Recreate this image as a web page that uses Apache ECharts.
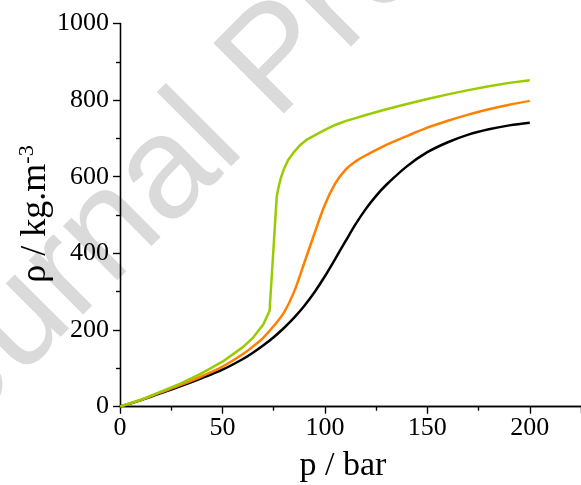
<!DOCTYPE html>
<html>
<head>
<meta charset="utf-8">
<script src="https://cdn.jsdelivr.net/npm/echarts@6/dist/echarts.min.js"></script>
<style>
  html, body { margin: 0; padding: 0; background: #fff; }
  #chart { width: 581px; height: 485px; }
</style>
</head>
<body>
<div id="chart"></div>
<script>
// CO2 density isotherms: density (kg/m3) against pressure (bar)

// Lowest isotherm (subcritical, with the vapour-liquid jump)
const pressureGreen = [0, 10, 20, 30, 40, 50, 60, 65, 70, 73, 76.5, 77.5, 78.5, 80, 82, 85, 88, 91, 95, 100, 105, 110, 115, 120, 130, 140, 150, 160, 170, 180, 190, 200];
const densityGreen  = [0, 17, 39, 61, 87, 117, 155, 180, 215, 250, 548, 575, 597, 620, 643, 665, 683, 696, 708, 722, 735, 745, 753, 761, 776, 790, 803, 815, 826, 836, 845, 852];

// Middle and highest isotherms share one pressure grid
const pressure      = [0, 10, 20, 30, 40, 50, 60, 65, 70, 75, 80, 85, 90, 95, 100, 105, 110, 115, 120, 125, 130, 140, 150, 160, 170, 180, 190, 200];
const densityOrange = [0, 17, 37, 57, 79, 104, 137, 157, 180, 210, 245, 300, 376, 453, 527, 582, 618, 640, 656, 670, 683, 706, 728, 746, 762, 776, 788, 798];
const densityBlack  = [0, 16, 35, 54, 74, 96, 124, 141, 160, 181, 205, 232, 263, 299, 340, 385, 431, 476, 516, 550, 579, 627, 664, 690, 710, 724, 734, 741];

// Axis ticks
const xTicks = [0, 50, 100, 150, 200];
const yTicks = [0, 200, 400, 600, 800, 1000];

const pairs = (xs, ys) => xs.map((x, i) => [x, ys[i]]);

const serif = 'Liberation Serif';
const chart = echarts.init(document.getElementById('chart'), null, { renderer: 'canvas' });

const xStep = xTicks[1] - xTicks[0];
const yStep = yTicks[1] - yTicks[0];
const plain = v => String(v);

const baseX = {
  type: 'value', min: xTicks[0], max: 225, interval: xStep,
  splitLine: { show: false },
  axisLine: { lineStyle: { color: '#000', width: 1.3 } },
};
const baseY = {
  type: 'value', min: yTicks[0], max: yTicks[yTicks.length - 1], interval: yStep,
  splitLine: { show: false },
  axisLine: { lineStyle: { color: '#000', width: 1.3 } },
};
const tick = (inside) => ({ inside, length: 7, lineStyle: { color: '#000', width: 1.2 } });
const minor = () => ({ show: true, splitNumber: 2, length: 4, lineStyle: { color: '#000', width: 1.2 } });

// Watermark placement: baseline start point and angle
const markAngle = Math.PI / 4;
const markSize = 145;
const markBase = [-82, 494];
const midShift = 0.3465 * markSize;
const markX = markBase[0] - midShift * Math.sin(markAngle);
const markY = markBase[1] - midShift * Math.cos(markAngle);

chart.setOption({
  animation: false,
  backgroundColor: '#fff',
  grid: { left: 120, top: 23.5, width: 465, height: 383, containLabel: false },
  xAxis: [
    Object.assign({}, baseX, {
      position: 'bottom', axisTick: tick(false), minorTick: minor(),
      axisLabel: { fontFamily: serif, fontSize: 26, color: '#000', margin: 9, showMaxLabel: false, formatter: plain },
    }),
    Object.assign({}, baseX, {
      position: 'top', axisTick: tick(true), minorTick: minor(),
      axisLabel: { show: false },
    }),
  ],
  yAxis: [
    Object.assign({}, baseY, {
      position: 'left', axisTick: tick(false), minorTick: minor(),
      axisLabel: { fontFamily: serif, fontSize: 26, color: '#000', margin: 11, formatter: plain },
    }),
    Object.assign({}, baseY, {
      position: 'right', axisTick: tick(true), minorTick: minor(),
      axisLabel: { show: false },
    }),
  ],
  series: [
    {
      type: 'line', name: 'black', data: pairs(pressure, densityBlack),
      showSymbol: false, smooth: 0.35,
      lineStyle: { color: '#000000', width: 2.5 }, z: 3,
    },
    {
      type: 'line', name: 'orange', data: pairs(pressure, densityOrange),
      showSymbol: false, smooth: 0.35,
      lineStyle: { color: '#ff8000', width: 2.5 }, z: 4,
    },
    {
      type: 'line', name: 'green', data: pairs(pressureGreen, densityGreen),
      showSymbol: false, smooth: false,
      lineStyle: { color: '#99cc00', width: 2.5 }, z: 5,
    },
  ],
  graphic: [
    {
      type: 'text', z: -10, silent: true,
      x: markX, y: markY, rotation: markAngle,
      style: {
        text: 'Journal Pre-proof', fontFamily: 'Liberation Sans', fontSize: markSize,
        fill: '#dadada', align: 'left', verticalAlign: 'middle',
      },
    },
    {
      type: 'text', silent: true, x: 343, y: 466,
      style: {
        text: 'p / bar', fontFamily: serif, fontSize: 34, fill: '#000',
        align: 'center', verticalAlign: 'middle',
      },
    },
    {
      type: 'text', silent: true, x: 36, y: 214, rotation: Math.PI / 2,
      style: {
        text: 'ρ / kg.m{sup|-3}', fontFamily: serif, fontSize: 36, fill: '#000',
        align: 'center', verticalAlign: 'middle',
        rich: { sup: { fontFamily: serif, fontSize: 22, fill: '#000', verticalAlign: 'top', lineHeight: 40 } },
      },
    },
  ],
});
</script>
</body>
</html>
